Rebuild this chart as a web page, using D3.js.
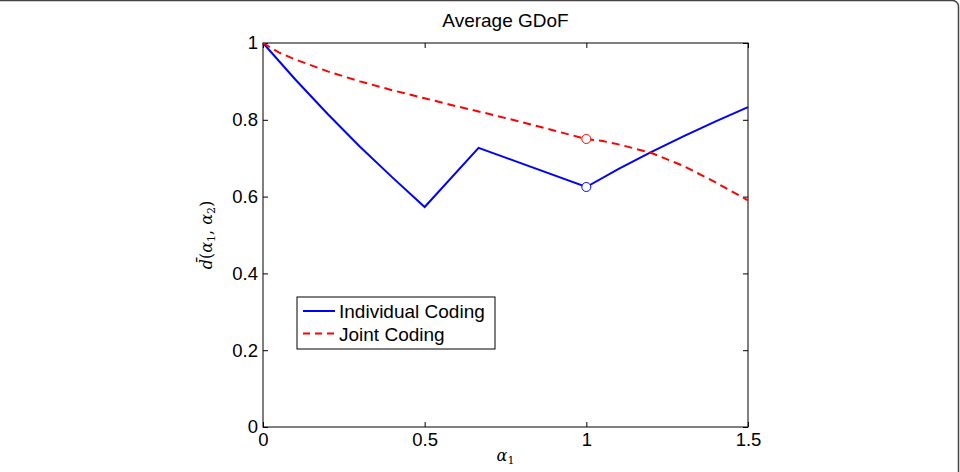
<!DOCTYPE html>
<html lang="en">
<head>
	<meta charset="UTF-8">
	<title>Average GDoF</title>
	<style>
		body { margin: 0; background: #fff; }
		text { font-family: "Liberation Sans", Arial, sans-serif; }
	</style>
	<script src="https://cdn.jsdelivr.net/npm/d3@7"></script>
</head>
<body>
	<script type="text/javascript">
		// values
		const xTicks = [0, 0.5, 1, 1.5];
		const yTicks = [0, 0.2, 0.4, 0.6, 0.8, 1];

		const individualAlpha = [0, 0.1, 0.2, 0.3, 0.4, 0.5, 0.6667, 1, 1.1, 1.2, 1.3, 1.4, 1.5];
		const individualD = [1, 0.905, 0.815, 0.73, 0.65, 0.573, 0.727, 0.625, 0.672, 0.716, 0.757, 0.796, 0.833];

		const jointAlpha = [0, 0.05, 0.1, 0.2, 0.3, 0.4, 0.5, 0.6, 0.7, 0.8, 0.9, 1, 1.05, 1.1, 1.2, 1.3, 1.4, 1.5];
		const jointD = [1, 0.975, 0.957, 0.926, 0.9, 0.877, 0.856, 0.835, 0.815, 0.794, 0.772, 0.75, 0.745, 0.736, 0.714, 0.68, 0.637, 0.59];

		const markerAlpha = [1, 1];
		const markerD = [0.625, 0.75];
		const markerColor = ["#0000ff", "#ff0000"];

		let width = 960;
		let height = 472;

		const svg = d3.select("body").append("svg")
			.attr("width", width)
			.attr("height", height);

		// outer frame (rounded corner top right)
		svg.append("rect")
			.attr("x", -20).attr("y", 0.5)
			.attr("width", 978.5).attr("height", 500)
			.attr("rx", 6)
			.style("fill", "none")
			.style("stroke", "#444")
			.style("stroke-width", 1.5);

		const plotLeft = 263, plotRight = 748, plotTop = 43, plotBottom = 427;

		const x = d3.scaleLinear().domain([0, 1.5]).range([plotLeft, plotRight]);
		const y = d3.scaleLinear().domain([0, 1]).range([plotBottom, plotTop]);

		// ticks pointing inward on all four sides
		const axisStyle = g => {
			g.select(".domain").remove();
			g.selectAll(".tick line").style("stroke", "#000");
			g.selectAll("text").style("font-size", "18.5px").style("fill", "#000");
		};

		svg.append("g")
			.attr("transform", `translate(0,${plotBottom})`)
			.call(d3.axisBottom(x).tickValues(xTicks).tickFormat(d3.format("")).tickSize(-5).tickPadding(6))
			.call(axisStyle);
		svg.append("g")
			.attr("transform", `translate(0,${plotTop})`)
			.call(d3.axisTop(x).tickValues(xTicks).tickFormat("").tickSize(-5))
			.call(axisStyle);
		svg.append("g")
			.attr("transform", `translate(${plotLeft},0)`)
			.call(d3.axisLeft(y).tickValues(yTicks).tickFormat(d3.format("")).tickSize(-5).tickPadding(5))
			.call(axisStyle);
		svg.append("g")
			.attr("transform", `translate(${plotRight},0)`)
			.call(d3.axisRight(y).tickValues(yTicks).tickFormat("").tickSize(-5))
			.call(axisStyle);

		svg.append("rect")
			.attr("x", plotLeft).attr("y", plotTop)
			.attr("width", plotRight - plotLeft).attr("height", plotBottom - plotTop)
			.style("fill", "none")
			.style("stroke", "#000")
			.style("stroke-width", 1);

		const line = d3.line()
			.x(d => x(d[0]))
			.y(d => y(d[1]));

		svg.append("path")
			.datum(individualAlpha.map((a, i) => [a, individualD[i]]))
			.attr("d", line)
			.style("fill", "none")
			.style("stroke", "#0000ff")
			.style("stroke-width", 2);

		svg.append("path")
			.datum(jointAlpha.map((a, i) => [a, jointD[i]]))
			.attr("d", line)
			.style("fill", "none")
			.style("stroke", "#ff0000")
			.style("stroke-width", 2)
			.style("stroke-dasharray", "8,5");

		svg.selectAll(".marker")
			.data(markerAlpha.map((a, i) => [a, markerD[i], markerColor[i]]))
			.join("circle")
			.attr("class", "marker")
			.attr("cx", d => x(d[0]))
			.attr("cy", d => y(d[1]))
			.attr("r", 4.5)
			.style("fill", "#fff")
			.style("stroke", d => d[2])
			.style("stroke-width", 1);

		// title and axis labels
		svg.append("text")
			.attr("x", (plotLeft + plotRight) / 2).attr("y", 27)
			.attr("text-anchor", "middle")
			.style("font-size", "19px")
			.text("Average GDoF");

		svg.append("text")
			.attr("x", (plotLeft + plotRight) / 2).attr("y", 461)
			.attr("text-anchor", "middle")
			.style("font-family", "'DejaVu Serif', serif")
			.style("font-style", "italic")
			.style("font-size", "16px")
			.html("α<tspan dy='3' font-size='11' font-style='normal'>1</tspan>");

		const ylab = svg.append("text")
			.attr("transform", "translate(212,235) rotate(-90)")
			.attr("text-anchor", "middle")
			.style("font-family", "'DejaVu Serif', serif")
			.style("font-size", "16px");
		ylab.append("tspan").style("font-style", "italic").text("d\u0304");
		ylab.append("tspan").text("(");
		ylab.append("tspan").style("font-style", "italic").text("α");
		ylab.append("tspan").attr("dy", 3).style("font-size", "11px").text("1");
		ylab.append("tspan").attr("dy", -3).text(", ");
		ylab.append("tspan").style("font-style", "italic").text("α");
		ylab.append("tspan").attr("dy", 3).style("font-size", "11px").text("2");
		ylab.append("tspan").attr("dy", -3).text(")");

		// legend
		const legend = svg.append("g").attr("transform", "translate(297,297)");
		legend.append("rect")
			.attr("width", 198).attr("height", 52)
			.style("fill", "#fff")
			.style("stroke", "#000")
			.style("stroke-width", 1);
		const items = [["Individual Coding", "#0000ff", null], ["Joint Coding", "#ff0000", "7,5"]];
		items.forEach((it, i) => {
			const yy = 14 + i * 22.5;
			legend.append("line")
				.attr("x1", 6).attr("x2", 38)
				.attr("y1", yy).attr("y2", yy)
				.style("stroke", it[1])
				.style("stroke-width", 2)
				.style("stroke-dasharray", it[2]);
			legend.append("text")
				.attr("x", 42).attr("y", yy + 7)
				.style("font-size", "19px")
				.text(it[0]);
		});
	</script>
</body>
</html>
